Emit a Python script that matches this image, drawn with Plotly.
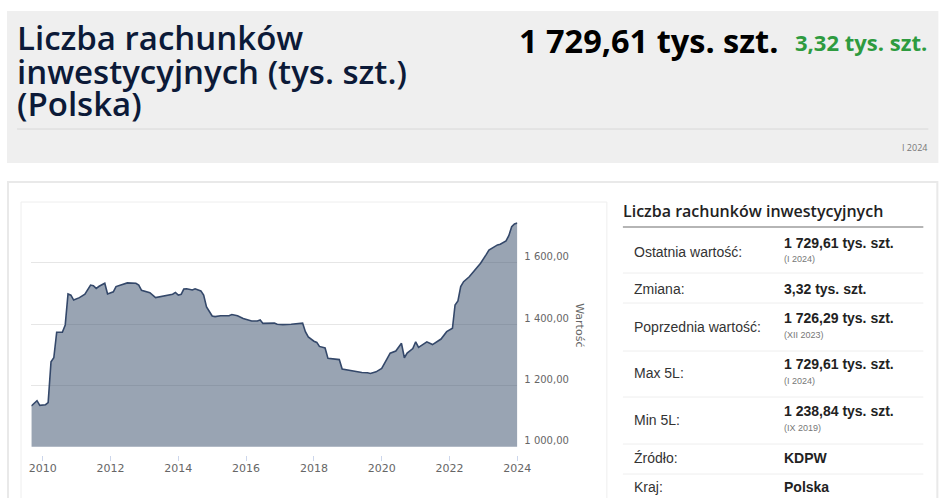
import plotly.graph_objects as go

W, H = 965, 498
# poprawka pozioma zmierzona na zrzucie: x_zrzut = 3 + 0.982 * x_strona
SX, OX = 0.982, 3

# miesięczne odczyty (tys. szt.)
dates_2009 = ["2009-09", "2009-11", "2009-12"]
vals_2009 = [1133, 1150, 1135]
dates_2010 = ["2010-02", "2010-03", "2010-04", "2010-05", "2010-06", "2010-08", "2010-09", "2010-10", "2010-11", "2010-12"]
vals_2010 = [1137, 1144, 1277, 1290, 1373, 1373, 1397, 1498, 1494, 1478]
dates_2011 = ["2011-02", "2011-04", "2011-06", "2011-07", "2011-08", "2011-09", "2011-11", "2011-12"]
vals_2011 = [1486, 1497, 1527, 1525, 1516, 1523, 1533, 1498]
dates_2012 = ["2012-02", "2012-03", "2012-05", "2012-07", "2012-10", "2012-11", "2012-12"]
vals_2012 = [1505, 1522, 1527, 1534, 1533, 1527, 1510]
dates_2013 = ["2013-03", "2013-05", "2013-06", "2013-09", "2013-11", "2013-12"]
vals_2013 = [1502, 1486, 1488, 1492, 1497, 1503]
dates_2014 = ["2014-01", "2014-02", "2014-03", "2014-04", "2014-06", "2014-07", "2014-09", "2014-10", "2014-11"]
vals_2014 = [1494, 1497, 1514, 1515, 1511, 1515, 1508, 1494, 1456]
dates_2015 = ["2015-01", "2015-02", "2015-04", "2015-07", "2015-08", "2015-10", "2015-12"]
vals_2015 = [1426, 1424, 1427, 1427, 1431, 1427, 1418]
dates_2016 = ["2016-03", "2016-05", "2016-06", "2016-07", "2016-09", "2016-11", "2016-12"]
vals_2016 = [1410, 1410, 1413, 1402, 1402, 1403, 1399]
dates_2017 = ["2017-02", "2017-05", "2017-07", "2017-09", "2017-10", "2017-11"]
vals_2017 = [1398, 1399, 1401, 1403, 1375, 1358]
dates_2018 = ["2018-01", "2018-02", "2018-03", "2018-05", "2018-06", "2018-08", "2018-10", "2018-11"]
vals_2018 = [1344, 1340, 1327, 1322, 1288, 1287, 1284, 1253]
dates_2019 = ["2019-01", "2019-03", "2019-06", "2019-08", "2019-09", "2019-11"]
vals_2019 = [1250, 1246, 1242, 1241, 1238.84, 1244]
dates_2020 = ["2020-01", "2020-03", "2020-04", "2020-06", "2020-07", "2020-08", "2020-09", "2020-10", "2020-12"]
vals_2020 = [1255, 1288, 1305, 1312, 1326, 1337, 1290, 1305, 1320]
dates_2021 = ["2021-01", "2021-02", "2021-04", "2021-05", "2021-07", "2021-08", "2021-10", "2021-12"]
vals_2021 = [1342, 1324, 1337, 1342, 1333, 1340, 1351, 1375]
dates_2022 = ["2022-02", "2022-03", "2022-04", "2022-05", "2022-06", "2022-08", "2022-10", "2022-12"]
vals_2022 = [1386, 1462, 1475, 1522, 1538, 1554, 1576, 1598]
dates_2023 = ["2023-02", "2023-03", "2023-06", "2023-07", "2023-09", "2023-10", "2023-11", "2023-12"]
vals_2023 = [1627, 1641, 1658, 1660, 1671, 1688, 1717, 1726.29]
dates_2024 = ["2024-01"]
vals_2024 = [1729.61]

year_ticks = ["2010-01-01", "2012-01-01", "2014-01-01", "2016-01-01", "2018-01-01", "2020-01-01", "2022-01-01", "2024-01-01"]
year_labels = ["2010", "2012", "2014", "2016", "2018", "2020", "2022", "2024"]
y_ticks = [1000, 1200, 1400, 1600]
y_labels = ["1 000,00", "1 200,00", "1 400,00", "1 600,00"]

table_labels = ["Ostatnia wartość:", "Zmiana:", "Poprzednia wartość:", "Max 5L:", "Min 5L:", "Źródło:", "Kraj:"]
table_values = ["1 729,61 tys. szt.", "3,32 tys. szt.", "1 726,29 tys. szt.", "1 729,61 tys. szt.", "1 238,84 tys. szt.", "KDPW", "Polska"]
table_notes = ["(I 2024)", "", "(XII 2023)", "(I 2024)", "(IX 2019)", "", ""]


def px(x):
    return (x - OX) / SX / W


def py(y):
    return 1 - y / H


if __name__ == '__main__':
    dates = (dates_2009 + dates_2010 + dates_2011 + dates_2012 + dates_2013 + dates_2014 + dates_2015
             + dates_2016 + dates_2017 + dates_2018 + dates_2019 + dates_2020 + dates_2021 + dates_2022
             + dates_2023 + dates_2024)
    values = (vals_2009 + vals_2010 + vals_2011 + vals_2012 + vals_2013 + vals_2014 + vals_2015
              + vals_2016 + vals_2017 + vals_2018 + vals_2019 + vals_2020 + vals_2021 + vals_2022
              + vals_2023 + vals_2024)

    fig = go.Figure(data=[
        go.Scatter(x=dates, y=values, mode='lines',
                   line=dict(color='#34486a', width=1.6),
                   fill='tozeroy', fillcolor='rgba(52,73,104,0.5)',
                   hoverinfo='x+y'),
        # niewidoczny ślad, żeby oś z kreskami podziałki została narysowana
        go.Scatter(x=dates, y=values, xaxis='x2', mode='none', hoverinfo='skip'),
    ])

    shapes = [
        # szary nagłówek
        dict(type='rect', xref='paper', yref='paper', x0=px(8), x1=px(938), y0=py(163), y1=py(11),
             fillcolor='#efefef', line=dict(width=0), layer='below'),
        dict(type='line', xref='paper', yref='paper', x0=px(18), x1=px(928), y0=py(129), y1=py(129),
             line=dict(color='#d8d8d8', width=1)),
        # panel dolny
        dict(type='rect', xref='paper', yref='paper', x0=px(9), x1=px(937), y0=py(520), y1=py(182),
             fillcolor='rgba(0,0,0,0)', line=dict(color='#e9e9e9', width=2), layer='below'),
        dict(type='rect', xref='paper', yref='paper', x0=px(22), x1=px(607), y0=py(520), y1=py(202),
             fillcolor='rgba(0,0,0,0)', line=dict(color='#eeeeee', width=1), layer='below'),
        # tabela
        dict(type='line', xref='paper', yref='paper', x0=px(623), x1=px(923), y0=py(227), y1=py(227),
             line=dict(color='#b5b5b5', width=2)),
    ]
    for yy in [273, 303, 351, 397, 444, 474]:
        shapes.append(dict(type='line', xref='paper', yref='paper', x0=px(623), x1=px(923),
                           y0=py(yy), y1=py(yy), line=dict(color='#eeeeee', width=1)))

    title_font = dict(family='Open Sans', size=33, color='#0c1a38', weight=600)
    ann = [
        dict(x=px(16), y=py(37), text='Liczba rachunków', xanchor='left', yanchor='middle', font=title_font),
        dict(x=px(16), y=py(71), text='inwestycyjnych (tys. szt.)', xanchor='left', yanchor='middle', font=title_font),
        dict(x=px(16), y=py(104), text='(Polska)', xanchor='left', yanchor='middle', font=title_font),
        dict(x=px(781), y=py(40), text='<b>1 729,61 tys. szt.</b>', xanchor='right', yanchor='middle',
             font=dict(family='Open Sans', size=32.5, color='#000000')),
        dict(x=px(929), y=py(42), text='<b>3,32 tys. szt.</b>', xanchor='right', yanchor='middle',
             font=dict(family='Open Sans', size=22, color='#2e9b3f')),
        dict(x=px(929), y=py(148), text='I 2024', xanchor='right', yanchor='middle',
             font=dict(family='Open Sans', size=9, color='#777777')),
        dict(x=px(580), y=py(325), text='Wartość', textangle=90, xanchor='center', yanchor='middle',
             font=dict(family='DejaVu Sans', size=11, color='#666666')),
        dict(x=px(621), y=py(211), text='Liczba rachunków inwestycyjnych', xanchor='left', yanchor='middle',
             font=dict(family='Open Sans', size=16, color='#222222', weight=600)),
    ]
    row_label_y = [252, 289, 327, 373, 420, 458, 487]
    row_value_y = [243, 289, 318, 364, 411, 458, 487]
    row_note_y = [259, 0, 335, 381, 428, 0, 0]
    for i in range(len(table_labels)):
        ann.append(dict(x=px(632), y=py(row_label_y[i]), text=table_labels[i], xanchor='left', yanchor='middle',
                        font=dict(family='Liberation Sans', size=14, color='#333333')))
        ann.append(dict(x=px(782), y=py(row_value_y[i]), text='<b>' + table_values[i] + '</b>',
                        xanchor='left', yanchor='middle',
                        font=dict(family='Liberation Sans', size=14, color='#222222')))
        if table_notes[i]:
            ann.append(dict(x=px(782), y=py(row_note_y[i]), text=table_notes[i], xanchor='left', yanchor='middle',
                            font=dict(family='Liberation Sans', size=9, color='#777777')))
    for a in ann:
        a['xref'] = 'paper'
        a['yref'] = 'paper'
        a['showarrow'] = False

    x_dom = [px(32.3), px(517.6)]
    fig.update_layout(
        width=W, height=H, margin=dict(l=0, r=0, t=0, b=0),
        paper_bgcolor='white', plot_bgcolor='white', showlegend=False,
        shapes=shapes, annotations=ann,
        xaxis=dict(domain=x_dom, range=['2009-09-01', '2024-01-01'],
                   tickvals=year_ticks, ticktext=year_labels, showgrid=False, zeroline=False,
                   showline=False, ticks='', ticklabelstandoff=13,
                   tickfont=dict(family='DejaVu Sans', size=11, color='#666666')),
        xaxis2=dict(overlaying='x', anchor='free', position=py(455), domain=x_dom,
                    range=['2009-09-01', '2024-01-01'], tickvals=year_ticks, showticklabels=False,
                    showgrid=False, zeroline=False, showline=False, ticks='outside', ticklen=5,
                    tickcolor='#ccd6eb', tickwidth=1),
        yaxis=dict(domain=[py(446.7), py(213.6)], range=[1000, 1760], side='right',
                   tickvals=y_ticks, ticktext=y_labels, showgrid=True, gridcolor='#e6e6e6',
                   zeroline=False, showline=False, ticks='', ticklabelshift=-6, ticklabelstandoff=6,
                   tickfont=dict(family='DejaVu Sans', size=10, color='#666666')),
    )

    # bez domyślnego marginesu strony figura zaczyna się w rogu okna
    fig.write_html("out.html", config={'displayModeBar': False},
                   post_script="document.body.style.margin='0';document.body.style.overflow='hidden';")
